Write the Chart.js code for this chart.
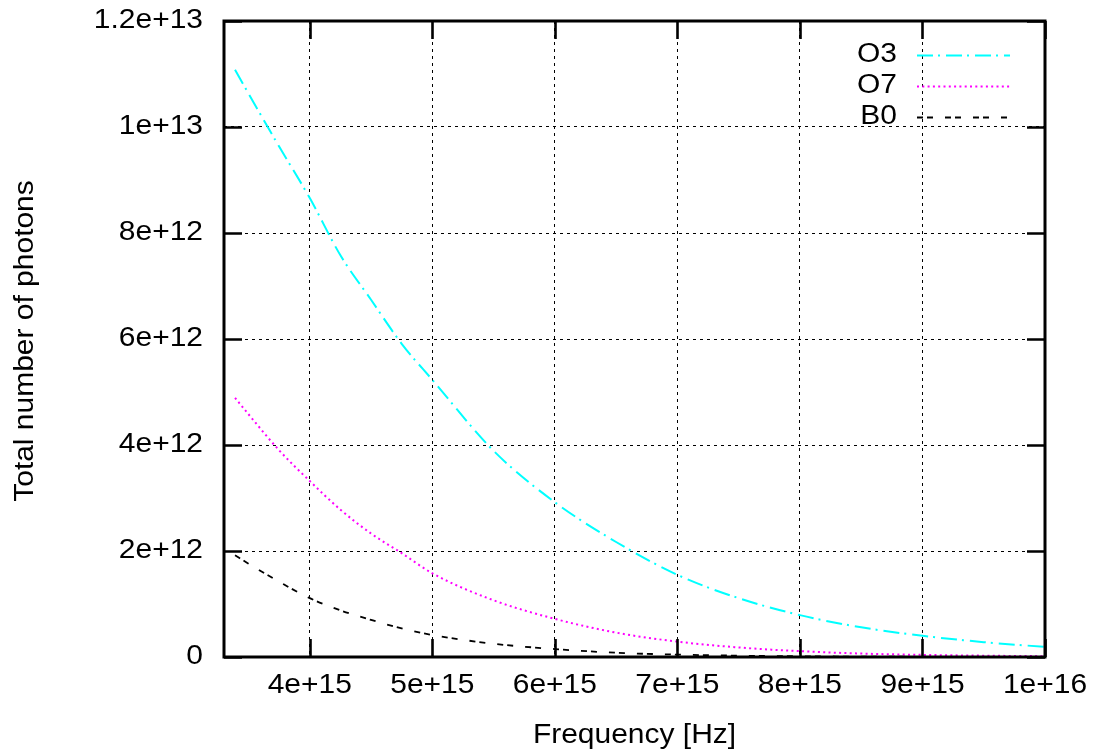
<!DOCTYPE html>
<html>
<head>
<meta charset="utf-8">
<script src="https://cdn.jsdelivr.net/npm/chart.js@4.4.1/dist/chart.umd.min.js"></script>
<style>
  html, body { margin: 0; padding: 0; background: #fff; }
  #wrap { width: 1097px; height: 751px; }
</style>
</head>
<body>
<div id="wrap"><canvas id="c" width="1097" height="751"></canvas></div>
<script>
// ---- data (frequency in Hz, photons) ----
const freq = [3.39e15, 3.5e15, 3.75e15, 4.0e15, 4.25e15, 4.5e15, 4.75e15, 5.0e15, 5.5e15, 6.0e15,
              6.5e15, 7.0e15, 7.5e15, 8.0e15, 8.5e15, 9.0e15, 9.5e15, 1.0e16];
const o3 = [11.08e12, 10.63e12, 9.63e12, 8.66e12, 7.58e12, 6.74e12, 5.91e12, 5.23e12, 3.89e12, 2.92e12,
            2.17e12, 1.55e12, 1.11e12, 0.79e12, 0.56e12, 0.40e12, 0.28e12, 0.19e12];
const o7 = [4.89e12, 4.58e12, 3.90e12, 3.32e12, 2.78e12, 2.33e12, 1.96e12, 1.58e12, 1.07e12, 0.72e12,
            0.46e12, 0.29e12, 0.18e12, 0.11e12, 0.065e12, 0.04e12, 0.025e12, 0.015e12];
const b0 = [1.92e12, 1.76e12, 1.42e12, 1.11e12, 0.88e12, 0.70e12, 0.54e12, 0.415e12, 0.25e12, 0.15e12,
            0.08e12, 0.045e12, 0.025e12, 0.013e12, 0.007e12, 0.004e12, 0.002e12, 0.001e12];
const seriesNames = ['O3', 'O7', 'B0'];

const xTickValues = [4e15, 5e15, 6e15, 7e15, 8e15, 9e15, 1e16];
const xTickLabels = ['4e+15', '5e+15', '6e+15', '7e+15', '8e+15', '9e+15', '1e+16'];
const yTickValues = [0, 2e12, 4e12, 6e12, 8e12, 1e13, 1.2e13];
const yTickLabels = ['0', '2e+12', '4e+12', '6e+12', '8e+12', '1e+13', '1.2e+13'];
const xTitle = 'Frequency [Hz]';
const yTitle = 'Total number of photons';

// ---- styling ----
const FONT = { family: "'Liberation Sans', Arial, sans-serif", size: 27 };
const STRETCH = 1.11;

const canvas = document.getElementById('c');
const ctx0 = canvas.getContext('2d');
const protoFill = CanvasRenderingContext2D.prototype.fillText;
ctx0.fillText = function (t, x, y, mw) {
  this.save();
  this.translate(x, y);
  this.scale(STRETCH, 1);
  if (mw === undefined || mw === null) protoFill.call(this, t, 0, 0);
  else protoFill.call(this, t, 0, 0, mw / STRETCH);
  this.restore();
};

function pts(ys) { return freq.map((f, i) => ({ x: f, y: ys[i] })); }

const frame = {
  id: 'frame',
  beforeDraw(chart) {
    const c = chart.ctx;
    c.save();
    c.fillStyle = '#fff';
    c.fillRect(0, 0, chart.width, chart.height);
    c.restore();
  },
  afterDraw(chart) {
    const c = chart.ctx;
    const a = chart.chartArea;
    const xs = chart.scales.x, ys = chart.scales.y;
    c.save();
    c.strokeStyle = '#000';
    // inward ticks
    c.lineWidth = 2.6;
    c.beginPath();
    const TL = 18;
    xTickValues.forEach(v => {
      const px = Math.round(xs.getPixelForValue(v)) + 0.5;
      c.moveTo(px, a.bottom); c.lineTo(px, a.bottom - TL);
      c.moveTo(px, a.top); c.lineTo(px, a.top + TL);
    });
    yTickValues.forEach(v => {
      const py = Math.round(ys.getPixelForValue(v)) + 0.5;
      c.moveTo(a.left, py); c.lineTo(a.left + TL, py);
      c.moveTo(a.right, py); c.lineTo(a.right - TL, py);
    });
    c.stroke();
    // border
    c.lineWidth = 3;
    c.strokeRect(a.left, a.top, a.right - a.left, a.bottom - a.top);

    // legend
    c.font = FONT.size + 'px ' + FONT.family;
    c.fillStyle = '#000';
    c.textAlign = 'right';
    c.textBaseline = 'middle';
    chart.data.datasets.forEach((ds, i) => {
      const y = 55 + i * 31;
      c.fillText(ds.label, 897, y);
      c.save();
      c.strokeStyle = ds.borderColor;
      c.lineWidth = ds.borderWidth;
      c.setLineDash(ds.borderDash || []);
      c.beginPath();
      c.moveTo(917, y + 0.5);
      c.lineTo(1010, y + 0.5);
      c.stroke();
      c.restore();
    });

    // axis titles
    c.textAlign = 'center';
    c.textBaseline = 'alphabetic';
    c.fillText(xTitle, (a.left + a.right) / 2, 743);
    c.save();
    c.translate(33, (a.top + a.bottom) / 2 + 2);
    c.rotate(-Math.PI / 2);
    c.fillText(yTitle, 0, 0);
    c.restore();
    c.restore();
  }
};

new Chart(canvas, {
  type: 'line',
  data: {
    datasets: [
      { label: seriesNames[0], data: pts(o3), borderColor: '#00ffff', borderWidth: 2,
        borderDash: [16, 5, 2, 6] },
      { label: seriesNames[1], data: pts(o7), borderColor: '#ff00ff', borderWidth: 2,
        borderDash: [2, 3.3] },
      { label: seriesNames[2], data: pts(b0), borderColor: '#000000', borderWidth: 1.8,
        borderDash: [6, 4, 6, 12] }
    ]
  },
  options: {
    responsive: false,
    animation: false,
    devicePixelRatio: 1,
    parsing: true,
    elements: { point: { radius: 0 }, line: { cubicInterpolationMode: 'monotone', fill: false } },
    layout: { padding: { left: 0, right: 52, top: 21, bottom: 0 } },
    plugins: { legend: { display: false }, tooltip: { enabled: false }, title: { display: false } },
    scales: {
      x: {
        type: 'linear',
        min: 3.3e15,
        max: 1e16,
        afterFit(s) { s.height = 94; s.paddingLeft = 0; s.paddingRight = 0; },
        afterBuildTicks(s) { s.ticks = xTickValues.map(v => ({ value: v })); },
        grid: { color: '#000', lineWidth: 1, drawTicks: false },
        border: { display: false, dash: [3, 4] },
        ticks: {
          autoSkip: false, maxRotation: 0, padding: 12, color: '#000', font: FONT,
          callback: (v, i) => xTickLabels[i]
        }
      },
      y: {
        type: 'linear',
        min: 0,
        max: 1.2e13,
        afterFit(s) { s.width = 224; s.paddingTop = 0; s.paddingBottom = 0; },
        afterBuildTicks(s) { s.ticks = yTickValues.map(v => ({ value: v })); },
        grid: { color: '#000', lineWidth: 1, drawTicks: false },
        border: { display: false, dash: [3, 4] },
        ticks: {
          autoSkip: false, padding: 21, color: '#000', font: FONT,
          callback: (v, i) => yTickLabels[i]
        }
      }
    }
  },
  plugins: [frame]
});
</script>
</body>
</html>
